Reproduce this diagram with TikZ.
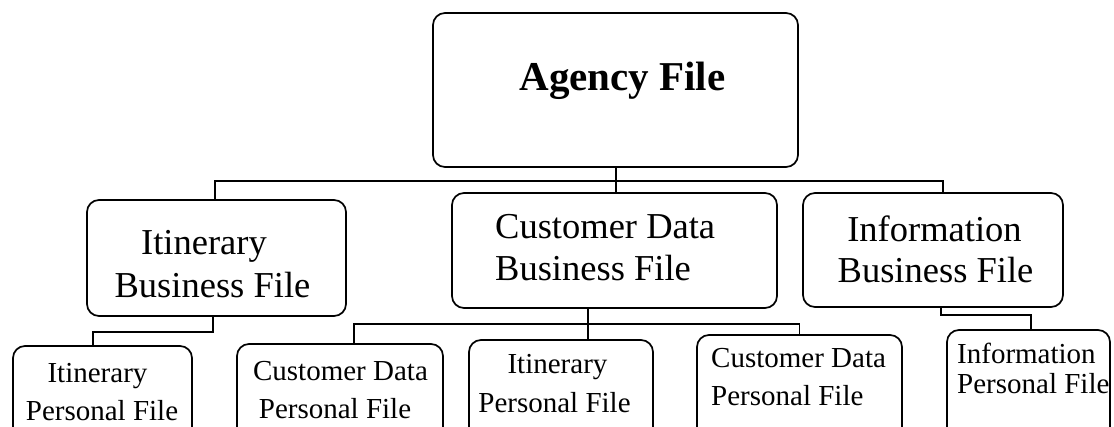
\documentclass[tikz,border=0pt]{standalone}
\usepackage{fontspec}
\setmainfont{Liberation Serif}
\usetikzlibrary{calc}
\begin{document}
\begin{tikzpicture}[x=1pt,y=-1pt,
  box/.style={draw=black,line width=1.7pt,rounded corners=12pt,inner sep=0pt,rectangle},
  conn/.style={draw=black,line width=1.7pt},
  bigtxt/.style={font=\fontsize{36.5}{44}\selectfont,inner sep=0pt},
  toptxt/.style={font=\fontsize{41}{48}\selectfont\bfseries,inner sep=0pt},
  smalltxt/.style={font=\fontsize{29}{35}\selectfont,inner sep=0pt}]
\useasboundingbox (0,0) rectangle (1114,426);
\clip (0,0) rectangle (1114,426);
% boxes
\node[box,minimum width=365pt,minimum height=154pt] (agency) at (615.5,90) {};
\node[box,minimum width=259pt,minimum height=116pt] (itb) at (216.5,258) {};
\node[box,minimum width=325pt,minimum height=115pt] (cdb) at (614.5,250.5) {};
\node[box,minimum width=260pt,minimum height=114pt] (ib) at (933,250) {};
\node[box,minimum width=179pt,minimum height=124pt] (c1) at (102.5,408) {};
\node[box,minimum width=206pt,minimum height=126pt] (c2) at (340,407) {};
\node[box,minimum width=184pt,minimum height=130pt] (c3) at (561,405) {};
\node[box,minimum width=205pt,minimum height=135pt] (c4) at (799.5,402.5) {};
\node[box,minimum width=163pt,minimum height=140pt] (c5) at (1028.5,400) {};
% texts
\node[toptxt,anchor=base] (tag) at (622.5,90) {Agency File};
\node[bigtxt,anchor=base] (titb1) at (204,254) {Itinerary};
\node[bigtxt,anchor=base] (titb2) at (212.5,297) {Business File};
\node[bigtxt,anchor=base west] (tcdb1) at (495,238) {Customer Data};
\node[bigtxt,anchor=base west] (tcdb2) at (495,280) {Business File};
\node[bigtxt,anchor=base] (tib1) at (934.5,241) {Information};
\node[bigtxt,anchor=base] (tib2) at (935.5,282) {Business File};
\node[smalltxt,anchor=base] (tc11) at (97.5,382) {Itinerary};
\node[smalltxt,anchor=base] (tc12) at (102,420) {Personal File};
\node[smalltxt,anchor=base] (tc21) at (340.5,380) {Customer Data};
\node[smalltxt,anchor=base] (tc22) at (335,418) {Personal File};
\node[smalltxt,anchor=base] (tc31) at (557.5,373) {Itinerary};
\node[smalltxt,anchor=base] (tc32) at (554.5,412) {Personal File};
\node[smalltxt,anchor=base west] (tc41) at (711,367) {Customer Data};
\node[smalltxt,anchor=base west] (tc42) at (711,405) {Personal File};
\node[smalltxt,anchor=base west] (tc51) at (957,363) {Information};
\node[smalltxt,anchor=base west] (tc52) at (957,393) {Personal File};
% connectors
\coordinate (j1) at (616,181);
\coordinate (k1) at (213,332);
\coordinate (k2) at (588,324);
\coordinate (k3) at (941,315);
\draw[conn] (agency.south -| j1) -- (cdb.north -| j1);
\draw[conn] ([xshift=-1.5pt]itb.north) |- (j1) -| ([xshift=10pt]ib.north);
\draw[conn] ([xshift=-3.5pt]itb.south) |- (k1) -| ([xshift=-9.5pt]c1.north);
\draw[conn] (cdb.south -| k2) -- (c3.north -| k2);
\draw[conn] ([xshift=14pt]c2.north) |- (k2) -| (c4.north);
\draw[conn] ([xshift=8pt]ib.south) |- (k3) -| ([xshift=2.5pt]c5.north);
\end{tikzpicture}
\end{document}
